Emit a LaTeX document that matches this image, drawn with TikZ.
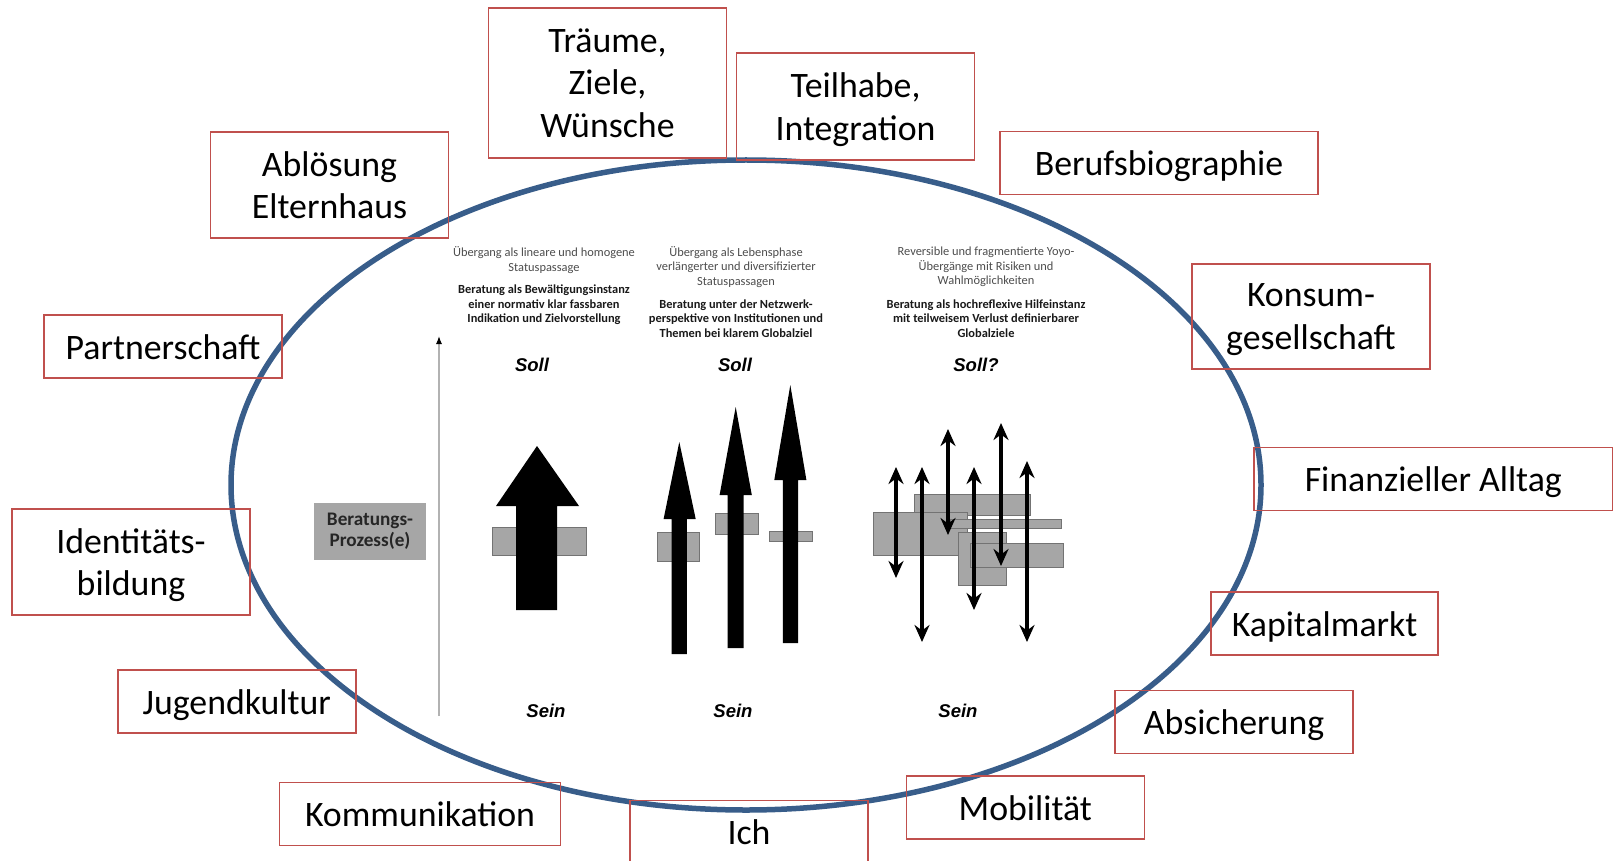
\documentclass[tikz,border=0pt]{standalone}
\usepackage{fontspec}
\setmainfont{Carlito}
\newfontfamily\arialfont{Liberation Sans}
\usetikzlibrary{arrows.meta}

\definecolor{boxred}{HTML}{C0504D}
\definecolor{ringblue}{HTML}{385D8A}
\definecolor{prozessgray}{HTML}{A6A6A6}

\tikzset{
  topic/.style={draw=boxred, line width=0.75pt, minimum width=119pt, minimum height=31.5pt,
    align=center, inner sep=0pt, text depth=0pt, execute at begin node={\rule{0pt}{12.9pt}},
    font=\fontsize{17.9}{21.4}\selectfont},
  phase/.style={align=center, inner sep=0pt, text=black!70, font=\fontsize{6.2}{7.2}\selectfont},
  phasebold/.style={phase, text=black!90, font=\fontsize{6.2}{7.2}\selectfont\bfseries},
  pole/.style={inner sep=0pt, font=\fontsize{9.25}{11}\selectfont\arialfont\bfseries\itshape},
  segment/.style={fill=prozessgray, draw=black!55, line width=0.4pt},
  swing/.style={line width=2pt, {Stealth[length=8.5pt,width=7.5pt]}-{Stealth[length=8.5pt,width=7.5pt]}},
  axisline/.style={draw=black!30, line width=0.6pt, -{Latex[color=black,length=4pt,width=3pt]}},
}

\begin{document}
\begin{tikzpicture}[x=0.5pt, y=-0.5pt]
      \clip (0,0) rectangle (1616,861);

      % inner diagram
      \node[fill=prozessgray, minimum width=55.8pt, minimum height=28.5pt, align=center, inner sep=0pt,
        text=black!85, font=\fontsize{9.6}{10.6}\selectfont\bfseries] (prozess) at (370,531.5) {Beratungs-\\Prozess(e)};
      \draw[axisline] (439,716) -- (439,336);

      \begin{scope}[every node/.style={phase}]
        \node (linear)  at (544,260) {Übergang als lineare und homogene\\Statuspassage};
        \node (lebens)  at (736,267) {Übergang als Lebensphase\\verlängerter und diversifizierter\\Statuspassagen};
        \node (yoyo)    at (986,267) {Reversible und fragmentierte Yoyo-\\Übergänge mit Risiken und\\Wahlmöglichkeiten};
      \end{scope}
      \begin{scope}[every node/.style={phasebold}]
        \node (linearb) at (544,305) {Beratung als Bewältigungsinstanz\\einer normativ klar fassbaren\\Indikation und Zielvorstellung};
        \node (lebensb) at (736,318.5) {Beratung unter der Netzwerk-\\perspektive von Institutionen und\\Themen bei klarem Globalziel};
        \node (yoyob)   at (986,318.5) {Beratung als hochreflexive Hilfeinstanz\\mit teilweisem Verlust definierbarer\\Globalziele};
      \end{scope}

      \begin{scope}[every node/.style={pole}]
        \node (soll1) at (532,365) {Soll};
        \node (soll2) at (735,365) {Soll};
        \node (soll3) at (976,365) {Soll?};
        \node (sein1) at (546,711) {Sein};
        \node (sein2) at (733,711) {Sein};
        \node (sein3) at (958,711) {Sein};
      \end{scope}

      % linear
      \draw[segment] (492,527) rectangle (586,555);
      \fill (516,610) -- (516,506) -- (496,506) -- (537,446) -- (579,506) -- (557,506) -- (557,610) -- cycle;

      % verlaengert
      \draw[segment] (657,532) rectangle (699,561);
      \draw[segment] (715,513) rectangle (758,534);
      \draw[segment] (769,531) rectangle (812,541);
      \fill (671.5,654) -- (671.5,519) -- (663.6,519) -- (679.3,442) -- (695.7,519) -- (686.8,519) -- (686.8,654) -- cycle;
      \fill (727.5,648) -- (727.5,495) -- (719.6,495) -- (735.7,407) -- (751.8,495) -- (743.6,495) -- (743.6,648) -- cycle;
      \fill (782.9,643) -- (782.9,480) -- (774.3,480) -- (790.3,385) -- (806.4,480) -- (798.2,480) -- (798.2,643) -- cycle;

      % yoyo
      \draw[segment] (914,494) rectangle (1030,515);
      \draw[segment] (873,512) rectangle (967,555);
      \draw[segment] (950,519) rectangle (1061,528);
      \draw[segment] (958,532) rectangle (1006,585);
      \draw[segment] (970,543) rectangle (1063,567);
      \draw[swing] (896,467) -- (896,578);
      \draw[swing] (922,467) -- (922,642);
      \draw[swing] (948,429) -- (948,535);
      \draw[swing] (974,467) -- (974,610);
      \draw[swing] (1001,423) -- (1001,566);
      \draw[swing] (1027,461) -- (1027,642);

      % ring
      \draw[ringblue, line width=2.75pt] (746,485) ellipse [x radius=515, y radius=325];

      \begin{scope}[every node/.style={topic}]
        \node (traeume)       at (607.5,83)    [minimum height=75pt] {Träume,\\Ziele,\\Wünsche};
        \node (teilhabe)      at (855.5,106.5) [minimum height=53.5pt] {Teilhabe,\\Integration};
        \node (abloesung)     at (329.5,185)   [minimum height=53pt] {Ablösung\\Elternhaus};
        \node (beruf)         at (1159,163)    [minimum width=159pt] {Berufsbiographie};
        \node (partner)       at (163,346.5)   {Partnerschaft};
        \node (konsum)        at (1311,316.5)  [minimum height=52.5pt] {Konsum-\\gesellschaft};
        \node (finanz)        at (1433.3,479)  [minimum width=179.3pt] {Finanzieller Alltag};
        \node (identitaet)    at (131,562)     [minimum height=53pt] {Identitäts-\\bildung};
        \node (kapital)       at (1324.5,623.5) [minimum width=113.5pt] {Kapitalmarkt};
        \node (jugend)        at (236.8,701.5) {Jugendkultur};
        \node (absicherung)   at (1234,722)    {Absicherung};
        \node (kommunikation) at (420,813.8)   [minimum width=140.7pt] {Kommunikation};
        \node (ich)           at (749,832)     {Ich};
        \node (mobil)         at (1025.3,807.7) {Mobilität};
      \end{scope}

    \end{tikzpicture}
\end{document}
